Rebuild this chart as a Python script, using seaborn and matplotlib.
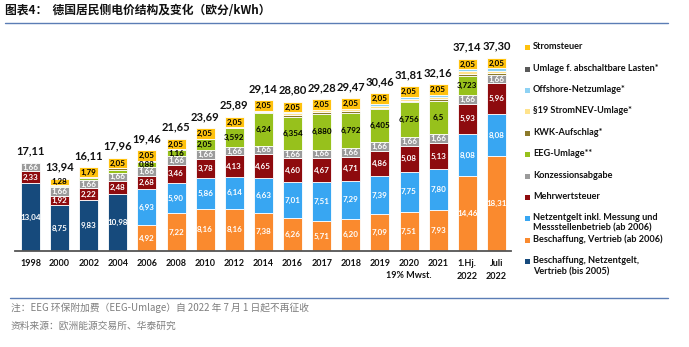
import numpy as np
import pandas as pd
import matplotlib
matplotlib.use("Agg")
import matplotlib.pyplot as plt
import seaborn as sns
from matplotlib.patches import Rectangle
from matplotlib.lines import Line2D
from matplotlib.transforms import blended_transform_factory

categories = ["1998", "2000", "2002", "2004", "2006", "2008", "2010", "2012", "2014",
              "2016", "2017", "2018", "2019", "2020", "2021", "1.Hj.\n2022", "Juli\n2022"]
category_notes = ["", "", "", "", "", "", "", "", "", "", "", "", "", "19% Mwst.", "", "", ""]

beschaffung_bis2005 = [13.04, 8.75, 9.83, 10.98, 0, 0, 0, 0, 0, 0, 0, 0, 0, 0, 0, 0, 0]
beschaffung_ab2006 = [0, 0, 0, 0, 4.92, 7.22, 8.16, 8.16, 7.38, 6.26, 5.71, 6.20, 7.09, 7.51, 7.93, 14.46, 18.31]
netzentgelt = [0, 0, 0, 0, 6.93, 5.90, 5.86, 6.14, 6.63, 7.01, 7.51, 7.29, 7.39, 7.75, 7.80, 8.08, 8.08]
mehrwertsteuer = [2.33, 1.92, 2.22, 2.48, 2.68, 3.46, 3.78, 4.13, 4.65, 4.60, 4.67, 4.71, 4.86, 5.08, 5.13, 5.93, 5.96]
konzession = [1.66] * 17
eeg = [0, 0.20, 0.35, 0.54, 0.88, 1.16, 2.05, 3.592, 6.24, 6.354, 6.880, 6.792, 6.405, 6.756, 6.5, 3.723, 0]
eeg_labels = ["", "", "", "", "0,88", "1,16", "2,05", "3,592", "6,24", "6,354", "6,880", "6,792",
              "6,405", "6,756", "6,5", "3,723", ""]
kwk = [0, 0.13, 0.25, 0.25, 0.34, 0.20, 0.13, 0.002, 0.178, 0.445, 0.438, 0.345, 0.28, 0.226, 0.254, 0.378, 0.378]
strom_nev = [0, 0, 0, 0, 0, 0, 0, 0.151, 0.092, 0.378, 0.388, 0.37, 0.305, 0.358, 0.432, 0.437, 0.437]
offshore = [0, 0, 0, 0, 0, 0, 0, 0, 0.25, 0.04, 0, 0.037, 0.416, 0.416, 0.395, 0.419, 0.419]
abschaltbar = [0, 0, 0, 0, 0, 0, 0, 0, 0.009, 0, 0.006, 0.011, 0.005, 0.007, 0.009, 0.003, 0.003]
stromsteuer = [0, 1.28, 1.79, 2.05, 2.05, 2.05, 2.05, 2.05, 2.05, 2.05, 2.05, 2.05, 2.05, 2.05, 2.05, 2.05, 2.05]
totals = [17.11, 13.94, 16.11, 17.96, 19.46, 21.65, 23.69, 25.89, 29.14, 28.80, 29.28, 29.47,
          30.46, 31.81, 32.16, 37.14, 37.30]

def fmt(v):
    return f"{v:.2f}".replace(".", ",")

series = [
    ("Beschaffung, Netzentgelt,\nVertrieb (bis 2005)", beschaffung_bis2005, "#164A7C", "white", [fmt(v) for v in beschaffung_bis2005]),
    ("Beschaffung, Vertrieb (ab 2006)", beschaffung_ab2006, "#FA8A2E", "white", [fmt(v) for v in beschaffung_ab2006]),
    ("Netzentgelt inkl. Messung und\nMessstellenbetrieb (ab 2006)", netzentgelt, "#38A6F2", "white", [fmt(v) for v in netzentgelt]),
    ("Mehrwertsteuer", mehrwertsteuer, "#8E0B0E", "white", [fmt(v) for v in mehrwertsteuer]),
    ("Konzessionsabgabe", konzession, "#9B9B9B", "white", [fmt(v) for v in konzession]),
    ("EEG-Umlage**", eeg, "#97C11C", "black", eeg_labels),
    ("KWK-Aufschlag*", kwk, "#8C7A2A", None, None),
    ("§19 StromNEV-Umlage*", strom_nev, "#FFE38C", None, None),
    ("Offshore-Netzumlage*", offshore, "#8ED2F4", None, None),
    ("Umlage f. abschaltbare Lasten*", abschaltbar, "#595959", None, None),
    ("Stromsteuer", stromsteuer, "#FFC20E", "black", [fmt(v) for v in stromsteuer]),
]

sns.set_theme(style="white")
plt.rcParams["font.family"] = ["Lato", "Noto Sans CJK SC", "DejaVu Sans"]

fig = plt.figure(figsize=(6.89, 3.47), dpi=100)
ax = fig.add_axes([15 / 689, 0.2775, (511 - 15) / 689, 0.596])

bottom = np.zeros(len(categories))
for name, vals, color, tcolor, labels in series:
    vals = np.array(vals, dtype=float)
    idx = np.where(vals > 0)[0]
    df = pd.DataFrame({"cat": [categories[i] for i in idx], "val": vals[idx]})
    sns.barplot(data=df, x="cat", y="val", order=categories, color=color, saturation=1,
                errorbar=None, width=0.65, bottom=bottom[idx], edgecolor="white",
                linewidth=0.6, ax=ax)
    if labels is not None:
        cont = ax.containers[-1]
        labs = [labels[i] for i in idx]
        ax.bar_label(cont, labels=labs, label_type="center", color=tcolor,
                     fontsize=5.8, fontweight="bold")
    bottom = bottom + vals

for i, t in enumerate(totals):
    ax.text(i, bottom[i] + 1.2, fmt(t), ha="center", va="bottom", fontsize=8,
            fontweight="bold", color="#111111")

ax.set_xlim(-0.53, 16.5)
ax.set_ylim(0, 40)
ax.set_xlabel("")
ax.set_ylabel("")
ax.set_yticks([])
ax.tick_params(axis="x", length=0, pad=6)
for lab in ax.get_xticklabels():
    lab.set_fontsize(6.5)
    lab.set_fontweight("bold")
    lab.set_color("#111111")
    lab.set_linespacing(1.5)
trans = blended_transform_factory(ax.transData, ax.transAxes)
for i, note in enumerate(category_notes):
    if note:
        ax.text(i, -0.122, note, transform=trans, ha="center", va="center",
                fontsize=6.5, fontweight="bold", color="#111111")
for s in ["top", "left", "right"]:
    ax.spines[s].set_visible(False)
ax.spines["bottom"].set_color("#555555")
ax.spines["bottom"].set_linewidth(1.3)

# legend (drawn manually to mimic the irregular spacing)
leg_items = [
    ("Stromsteuer", "#FFC20E", 47.5),
    ("Umlage f. abschaltbare Lasten*", "#595959", 69.3),
    ("Offshore-Netzumlage*", "#8ED2F4", 90.5),
    ("§19 StromNEV-Umlage*", "#FFE38C", 111.5),
    ("KWK-Aufschlag*", "#8C7A2A", 133.3),
    ("EEG-Umlage**", "#97C11C", 154.5),
    ("Konzessionsabgabe", "#9B9B9B", 176),
    ("Mehrwertsteuer", "#8E0B0E", 197.3),
    ("Netzentgelt inkl. Messung und\nMessstellenbetrieb (ab 2006)", "#38A6F2", 218.3),
    ("Beschaffung, Vertrieb (ab 2006)", "#FA8A2E", 240.3),
    ("Beschaffung, Netzentgelt,\nVertrieb (bis 2005)", "#164A7C", 261.7),
]
W, H = 689, 347
for text, col, y in leg_items:
    fig.add_artist(Rectangle((525 / W, 1 - (y + 2.5) / H), 5 / W, 5 / H,
                             transform=fig.transFigure, color=col, lw=0))
    fig.text(533 / W, 1 - (y - 5.5) / H, text, ha="left", va="top", fontsize=6.6,
             fontweight="bold", color="#111111", linespacing=1.25)

# title and rules
fig.text(5 / W, 1 - 11 / H, "图表4：  德国居民侧电价结构及变化（欧分/kWh）", ha="left", va="center",
         fontsize=8.5, fontweight="bold", color="#111111",
         family=["Noto Sans CJK SC", "DejaVu Sans"])
fig.add_artist(Line2D([5 / W, 668 / W], [1 - 23 / H, 1 - 23 / H], color="#5B7DB5", lw=1.0))
fig.add_artist(Line2D([10 / W, 668 / W], [1 - 298 / H, 1 - 298 / H], color="#5B7DB5", lw=1.0))
fig.text(11 / W, 1 - 308 / H, "注：EEG 环保附加费（EEG-Umlage）自 2022 年 7 月 1 日起不再征收",
         ha="left", va="center", fontsize=7, color="#7F7F7F",
         family=["Noto Sans CJK SC", "DejaVu Sans"])
fig.text(11 / W, 1 - 326 / H, "资料来源：欧洲能源交易所、华泰研究",
         ha="left", va="center", fontsize=7, color="#7F7F7F",
         family=["Noto Sans CJK SC", "DejaVu Sans"])

fig.savefig("out.png", dpi=100)
